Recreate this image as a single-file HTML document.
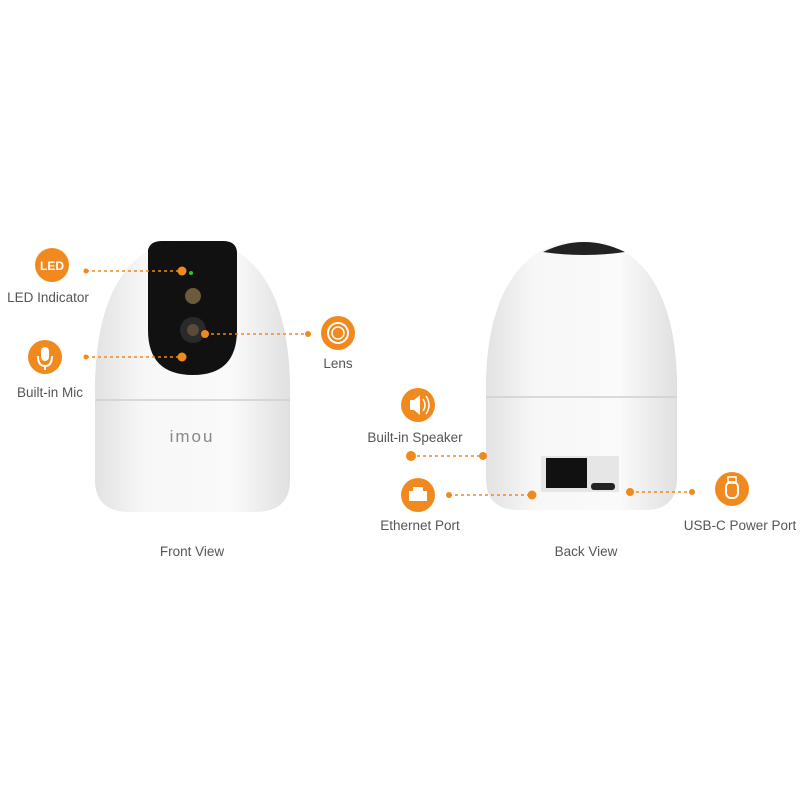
<!DOCTYPE html>
<html><head><meta charset="utf-8"><style>
html,body{margin:0;padding:0;background:#fff;width:800px;height:800px;overflow:hidden}
svg text{font-family:"Liberation Sans",sans-serif;fill:#555;}
</style></head><body>
<svg width="800" height="800" viewBox="0 0 800 800" xmlns="http://www.w3.org/2000/svg">
<defs>
<linearGradient id="bg1" x1="0" x2="1" y1="0" y2="0">
<stop offset="0" stop-color="#e2e2e2"/><stop offset="0.25" stop-color="#f7f7f7"/><stop offset="0.7" stop-color="#fafafa"/><stop offset="1" stop-color="#e0e0e0"/></linearGradient>
</defs>
<!-- Front camera -->
<path d="M95,400 C93,300 125,240 192,240 C259,240 292,300 290,400 Z" fill="url(#bg1)"/>
<path d="M95,400 L290,400 L290,480 Q290,512 255,512 L130,512 Q95,512 95,480 Z" fill="url(#bg1)"/>
<line x1="95" y1="400" x2="290" y2="400" stroke="#cfcfcf" stroke-width="1.5"/>
<path d="M148,250 Q150,241 162,241 L223,241 Q236,241 237,252 L237,330 Q237,375 193,375 Q148,375 148,330 Z" fill="#111"/>
<circle cx="193" cy="296" r="8" fill="#6b5a3c"/>
<circle cx="193" cy="330" r="13" fill="#2a2a2a"/><circle cx="193" cy="330" r="6" fill="#5a4a3a"/>
<circle cx="191" cy="273" r="2" fill="#2c2"/>
<text x="192" y="442" font-size="17" text-anchor="middle" style="fill:#888;letter-spacing:2px">imou</text>
<!-- Back camera -->
<path d="M486,397 C484,300 518,241 582,241 C646,241 679,300 677,397 Z" fill="url(#bg1)"/>
<path d="M486,397 L677,397 L677,478 Q677,510 645,510 L518,510 Q486,510 486,478 Z" fill="url(#bg1)"/>
<line x1="486" y1="397" x2="677" y2="397" stroke="#cfcfcf" stroke-width="1.5"/>
<path d="M543,252 Q584,232 625,252 Q584,258 543,252 Z" fill="#222"/>
<rect x="541" y="456" width="78" height="36" fill="#e6e6e6"/>
<rect x="546" y="458" width="41" height="30" fill="#111"/>
<rect x="591" y="483" width="24" height="7" rx="3" fill="#222"/>
<!-- callouts -->
<g stroke="#f08a1e" stroke-width="1.5" stroke-dasharray="3,3">
<line x1="86" y1="271" x2="182" y2="271"/><line x1="86" y1="357" x2="182" y2="357"/><line x1="205" y1="334" x2="308" y2="334"/>
<line x1="411" y1="456" x2="483" y2="456"/><line x1="449" y1="495" x2="532" y2="495"/><line x1="630" y1="492" x2="692" y2="492"/>
</g>
<g fill="#f08a1e">
<circle cx="86" cy="271" r="2.5"/><circle cx="182" cy="271" r="4.5"/><circle cx="86" cy="357" r="2.5"/><circle cx="182" cy="357" r="4.5"/>
<circle cx="205" cy="334" r="4"/><circle cx="308" cy="334" r="3"/>
<circle cx="411" cy="456" r="5"/><circle cx="483" cy="456" r="4"/><circle cx="449" cy="495" r="3"/><circle cx="532" cy="495" r="4.5"/>
<circle cx="630" cy="492" r="4"/><circle cx="692" cy="492" r="3"/>
<circle cx="52" cy="265" r="17"/><circle cx="45" cy="357" r="17"/><circle cx="338" cy="333" r="17"/>
<circle cx="418" cy="405" r="17"/><circle cx="418" cy="495" r="17"/><circle cx="732" cy="489" r="17"/>
</g>
<text x="52" y="270" font-size="12" font-weight="bold" text-anchor="middle" style="fill:#fff">LED</text>
<rect x="41" y="347" width="8" height="14" rx="4" fill="#fff"/><path d="M38,356 Q38,366 45,366 Q52,366 52,356" fill="none" stroke="#fff" stroke-width="2"/><line x1="45" y1="366" x2="45" y2="370" stroke="#fff" stroke-width="2"/>
<circle cx="338" cy="333" r="10" fill="none" stroke="#fff" stroke-width="2"/><circle cx="338" cy="333" r="6" fill="none" stroke="#fff" stroke-width="1.5"/>
<path d="M410,400 L414,400 L420,395 L420,415 L414,410 L410,410 Z" fill="#fff"/><path d="M423,399 Q427,405 423,411 M426,396 Q432,405 426,414" stroke="#fff" stroke-width="1.5" fill="none"/>
<rect x="409" y="491" width="18" height="10" fill="#fff"/><rect x="413" y="487" width="10" height="4" fill="#fff"/>
<rect x="726" y="482" width="12" height="16" rx="5" fill="none" stroke="#fff" stroke-width="2"/><rect x="728" y="477" width="8" height="6" fill="none" stroke="#fff" stroke-width="1.5"/>
<text x="48" y="302" font-size="13.5" text-anchor="middle">LED Indicator</text>
<text x="50" y="397" font-size="13.5" text-anchor="middle">Built-in Mic</text>
<text x="338" y="368" font-size="13.5" text-anchor="middle">Lens</text>
<text x="192" y="556" font-size="13.5" text-anchor="middle">Front View</text>
<text x="415" y="442" font-size="13.5" text-anchor="middle">Built-in Speaker</text>
<text x="420" y="530" font-size="13.5" text-anchor="middle">Ethernet Port</text>
<text x="740" y="530" font-size="13.5" text-anchor="middle">USB-C Power Port</text>
<text x="586" y="556" font-size="13.5" text-anchor="middle">Back View</text>
</svg>
</body></html>
